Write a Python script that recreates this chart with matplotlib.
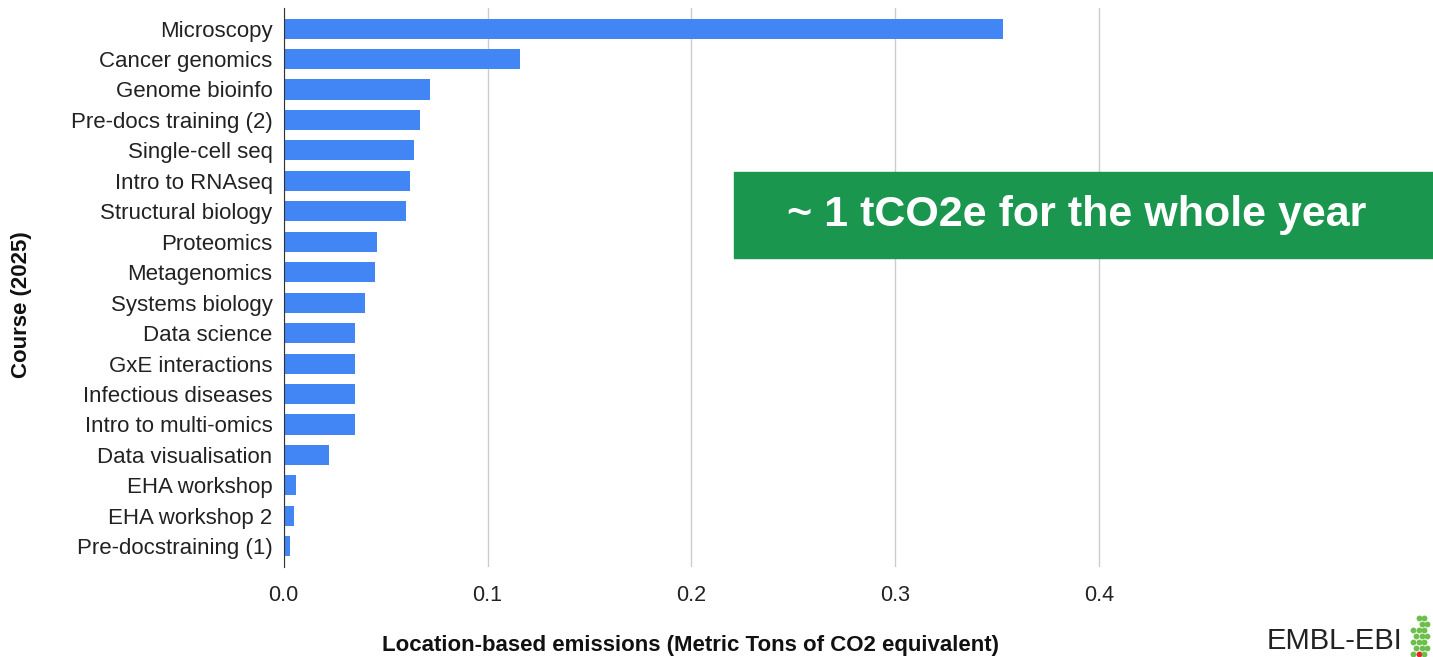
import matplotlib.pyplot as plt
import numpy as np

plt.rcParams['font.family'] = ['Liberation Sans', 'DejaVu Sans']

courses = [
    "Microscopy", "Cancer genomics", "Genome bioinfo", "Pre-docs training (2)",
    "Single-cell seq", "Intro to RNAseq", "Structural biology", "Proteomics",
    "Metagenomics", "Systems biology", "Data science", "GxE interactions",
    "Infectious diseases", "Intro to multi-omics", "Data visualisation",
    "EHA workshop", "EHA workshop 2", "Pre-docstraining (1)",
]
emissions = [
    0.353, 0.116, 0.072, 0.067, 0.064, 0.062, 0.060, 0.046, 0.045,
    0.040, 0.035, 0.035, 0.035, 0.035, 0.022, 0.006, 0.005, 0.003,
]
xticks = [0.0, 0.1, 0.2, 0.3, 0.4]

fig = plt.figure(figsize=(14.33, 6.57), dpi=100)
ax = fig.add_axes([0.198, 0.137, 0.64, 0.851])

y = np.arange(len(courses))
ax.barh(y, emissions, height=0.66, color='#4285f4', zorder=3)
ax.set_ylim(len(courses) - 0.32, -0.68)
ax.set_xlim(0, 0.45)

ax.set_yticks(y)
ax.set_yticklabels(courses, fontsize=16, color='#222222')
ax.set_xticks(xticks)
ax.set_xticklabels([f"{v:.1f}" for v in xticks], fontsize=15.5, color='#222222')
ax.tick_params(axis='both', length=0, pad=8)
ax.tick_params(axis='x', pad=13)

ax.grid(axis='x', color='#cccccc', linewidth=1, zorder=0)
for s in ['top', 'right', 'bottom']:
    ax.spines[s].set_visible(False)
ax.spines['left'].set_color('#333333')
ax.spines['left'].set_zorder(4)

fig.text(0.482, 1 - 645 / 657, "Location-based emissions (Metric Tons of CO2 equivalent)",
         ha='center', va='center', fontsize=16, fontweight='bold', color='#111111')
fig.text(22 / 1433, 1 - 305 / 657, "Course (2025)", rotation=90, ha='center', va='center',
         fontsize=16, fontweight='bold', color='#111111')

# green callout
fig.patches.append(plt.Rectangle((734 / 1433, 1 - 258 / 657), 699 / 1433, 86 / 657,
                                 transform=fig.transFigure, color='#1a964e', zorder=5))
fig.text(1077 / 1433, 1 - 215 / 657, "~ 1 tCO2e for the whole year", ha='center',
         va='center', fontsize=31, fontweight='bold', color='white', zorder=6)

# logo
fig.text(1402 / 1433, 1 - 641 / 657, "EMBL-EBI", ha='right', va='center',
         fontsize=21, color='#222222')
lax = fig.add_axes([1410 / 1433, 1 - 657 / 657, 23 / 1433, 42 / 657])
lax.set_xlim(-0.5, 3.5)
lax.set_ylim(-0.5, 6.5)
lax.axis('off')
for r in range(7):
    for c in range(3):
        if c == 0 and r > 4:
            continue
        col = '#e8212b' if (r == 0 and c == 1) else '#6cbf4a'
        lax.plot(c + (0.5 if r % 2 else 0), r, 'o', color=col, markersize=3.2)

fig.savefig("out.png", dpi=100)
